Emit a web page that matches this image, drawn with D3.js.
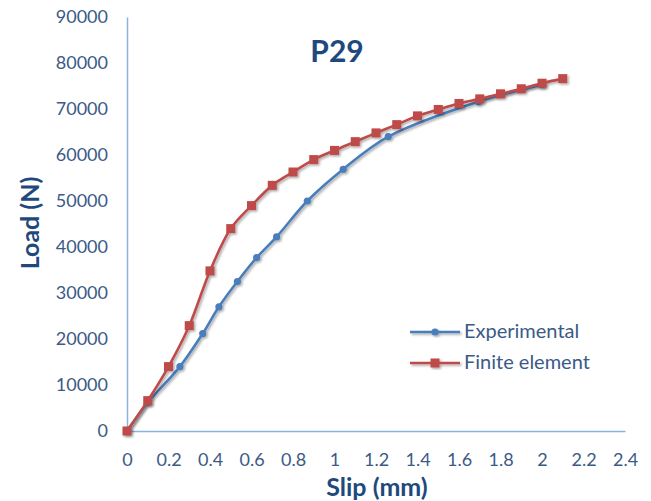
<!DOCTYPE html>
<html><head><meta charset="utf-8">
<script src="https://cdn.jsdelivr.net/npm/d3@7"></script>
<style>body{margin:0;background:#fff;} text{font-family:Lato, "Open Sans", sans-serif;}</style>
</head><body>
<svg id="c" width="651" height="501"></svg>
<script>
const title = "P29";
const xTicks = [0,0.2,0.4,0.6,0.8,1,1.2,1.4,1.6,1.8,2,2.2,2.4];
const yTicks = [0,10000,20000,30000,40000,50000,60000,70000,80000,90000];
const expSlip = [0,0.1,0.255,0.365,0.443,0.532,0.625,0.721,0.869,1.042,1.259,1.693,2.0];
const expLoad = [0,6200,14000,21200,27000,32500,37700,42200,50000,56900,64000,71600,75300];
const feSlip = [0,0.1,0.2,0.3,0.4,0.5,0.6,0.7,0.8,0.9,1.0,1.1,1.2,1.3,1.4,1.5,1.6,1.7,1.8,1.9,2.0,2.1];
const feLoad = [0,6600,14000,22900,34800,44000,49000,53400,56300,59000,61000,62900,64800,66600,68500,69900,71200,72200,73300,74400,75600,76600];
const seriesNames = ["Experimental","Finite element"];
const colors = ["#4A7EBB","#BE4B48"];

const svg = d3.select("#c");
const x = d3.scaleLinear().domain([0,2.4]).range([127,625]);
const y = d3.scaleLinear().domain([0,90000]).range([431,17]);
const textCol = "#3B5A87";
const titleCol = "#1F497D";
const axisCol = "#8DB3E2";

const defs = svg.append("defs");
const f = defs.append("filter").attr("id","sh").attr("x","-20%").attr("y","-20%").attr("width","140%").attr("height","140%");
f.append("feDropShadow").attr("dx",1.5).attr("dy",1.5).attr("stdDeviation",1.2).attr("flood-color","#000").attr("flood-opacity",0.35);

// axes
const xAxis = d3.axisBottom(x).tickValues(xTicks).tickSize(0).tickPadding(22).tickFormat(d=>String(d));
const gx = svg.append("g").attr("transform",`translate(0,${y(0)})`).call(xAxis);
gx.select(".domain").attr("stroke",axisCol).attr("stroke-width",1.5);
gx.selectAll("text").attr("fill",textCol).attr("font-size",18).style("font-family","Lato");

const yAxis = d3.axisLeft(y).tickValues(yTicks).tickSize(0).tickPadding(19).tickFormat(d=>String(d));
const gy = svg.append("g").attr("transform",`translate(${x(0)},0)`).call(yAxis);
gy.select(".domain").attr("stroke",axisCol).attr("stroke-width",1.5);
gy.selectAll("text").attr("fill",textCol).attr("font-size",18).style("font-family","Lato");

// lines
const line = d3.line().x(d=>x(d[0])).y(d=>y(d[1])).curve(d3.curveCatmullRom.alpha(0.5));
const expData = expSlip.map((s,i)=>[s,expLoad[i]]);
const feData = feSlip.map((s,i)=>[s,feLoad[i]]);

function drawSeries(data, color, marker){
  const g = svg.append("g").attr("filter","url(#sh)");
  g.append("path").datum(data).attr("d",line).attr("fill","none").attr("stroke",color).attr("stroke-width",2.6);
  if(marker==="circle"){
    g.selectAll("circle").data(data).join("circle").attr("cx",d=>x(d[0])).attr("cy",d=>y(d[1])).attr("r",3.6).attr("fill",color);
  } else {
    g.selectAll("rect").data(data).join("rect").attr("x",d=>x(d[0])-4.5).attr("y",d=>y(d[1])-4.5).attr("width",9).attr("height",9).attr("fill",color);
  }
}
drawSeries(expData, colors[0], "circle");
drawSeries(feData, colors[1], "square");

// title
svg.append("text").attr("x",337).attr("y",62).attr("text-anchor","middle").attr("font-size",30).attr("font-weight","bold").attr("fill",titleCol).text(title);
// axis titles
svg.append("text").attr("x",377).attr("y",496).attr("text-anchor","middle").attr("font-size",25).attr("font-weight","bold").attr("fill",titleCol).text("Slip (mm)");
svg.append("text").attr("transform","translate(39,223) rotate(-90)").attr("text-anchor","middle").attr("font-size",25).attr("font-weight","bold").attr("fill",titleCol).text("Load (N)");

// legend
const lg = svg.append("g");
seriesNames.forEach((n,i)=>{
  const yy = 332 + i*31;
  const gg = lg.append("g").attr("filter","url(#sh)");
  gg.append("line").attr("x1",410).attr("x2",460).attr("y1",yy).attr("y2",yy).attr("stroke",colors[i]).attr("stroke-width",2.6);
  if(i===0) gg.append("circle").attr("cx",435).attr("cy",yy).attr("r",3.6).attr("fill",colors[i]);
  else gg.append("rect").attr("x",430.5).attr("y",yy-4.5).attr("width",9).attr("height",9).attr("fill",colors[i]);
  lg.append("text").attr("x",464).attr("y",yy+6).attr("font-size",20).attr("fill",textCol).text(n);
});
</script>
</body></html>
